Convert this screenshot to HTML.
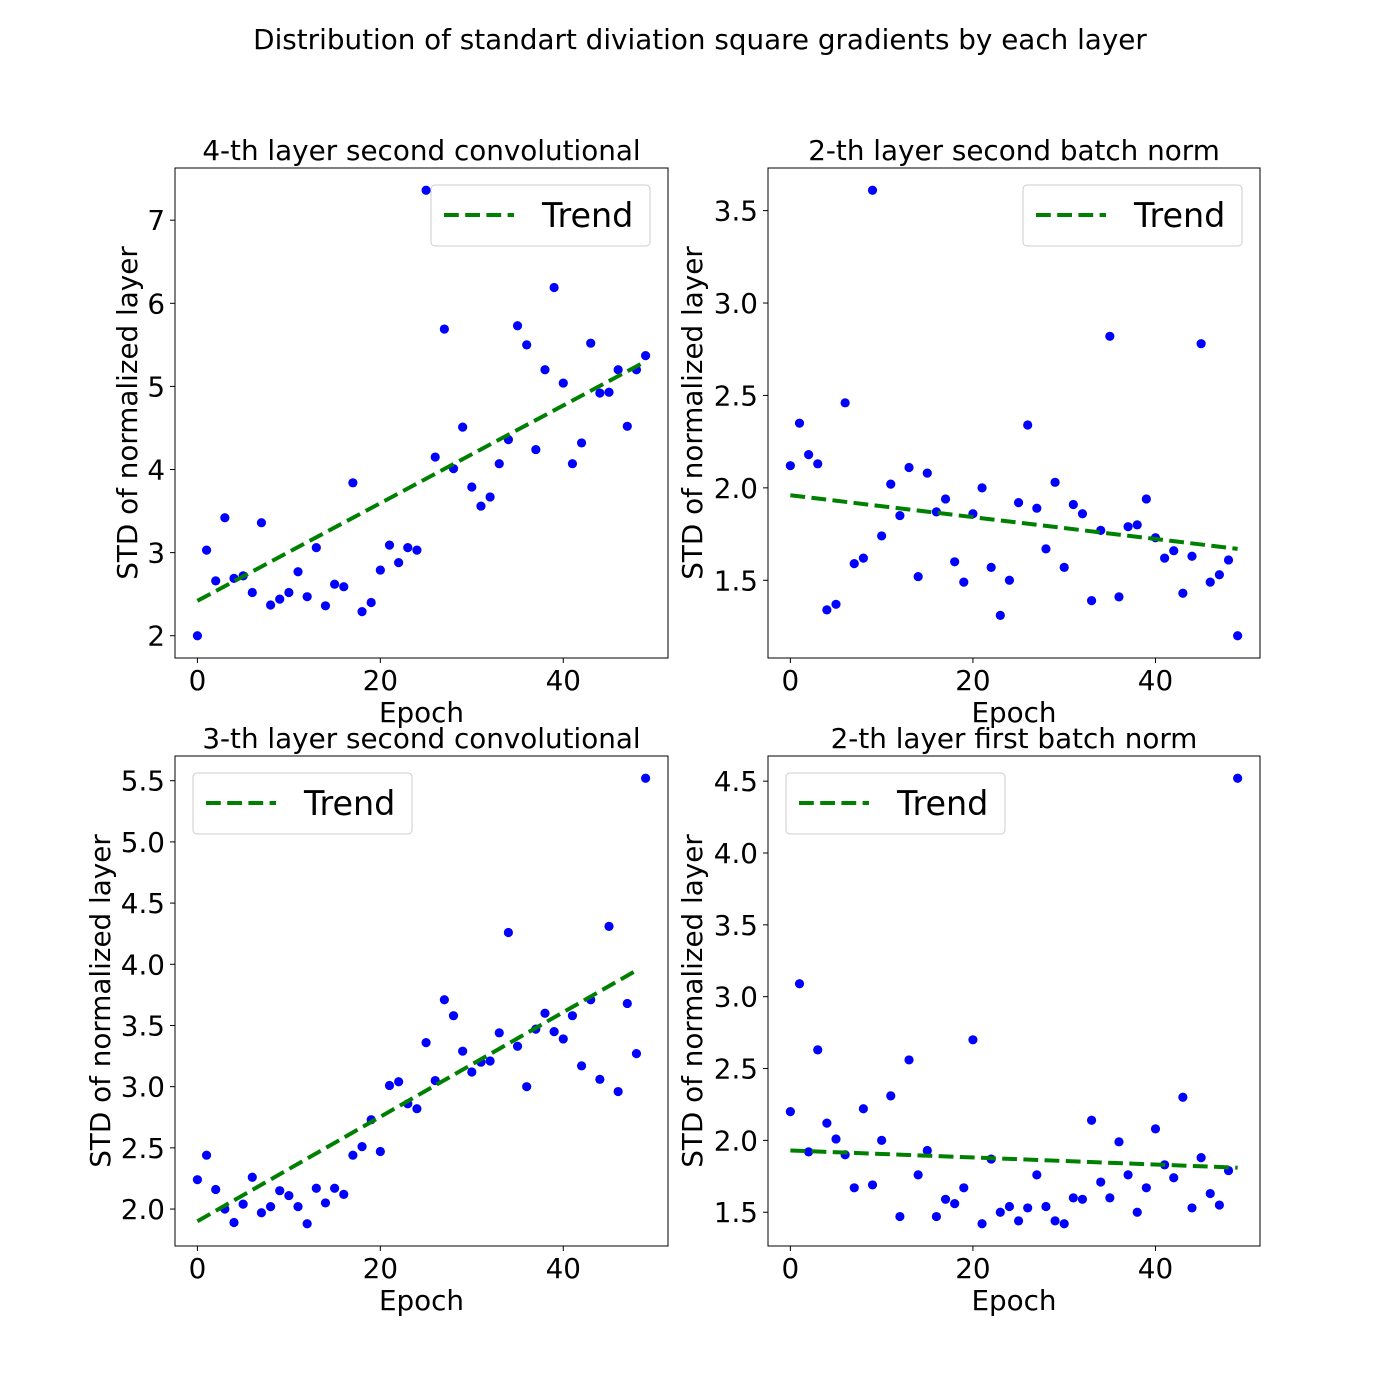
<!DOCTYPE html>
<html><head><meta charset="utf-8"><style>
body{margin:0;background:#fff;}
svg{display:block;font-family:"DejaVu Sans","Liberation Sans",sans-serif;}
</style></head><body>
<svg id="fig" width="1400" height="1400" viewBox="0 0 1400 1400" xmlns="http://www.w3.org/2000/svg">
<rect width="1400" height="1400" fill="#fff"/>
<text x="700" y="49" font-size="27.8" text-anchor="middle">Distribution of standart diviation square gradients by each layer</text>
</svg>
<script>
const epochs = Array.from({length:50},(_,i)=>i);
const titles = ["4-th layer second convolutional","2-th layer second batch norm","3-th layer second convolutional","2-th layer first batch norm"];
const series1 = [2.0,3.03,2.66,3.42,2.69,2.72,2.52,3.36,2.37,2.44,2.52,2.77,2.47,3.06,2.36,2.62,2.59,3.84,2.29,2.40,2.79,3.09,2.88,3.06,3.03,7.36,4.15,5.69,4.01,4.51,3.79,3.56,3.67,4.07,4.36,5.73,5.50,4.24,5.20,6.19,5.04,4.07,4.32,5.52,4.92,4.93,5.20,4.52,5.20,5.37];
const series2 = [2.12,2.35,2.18,2.13,1.34,1.37,2.46,1.59,1.62,3.61,1.74,2.02,1.85,2.11,1.52,2.08,1.87,1.94,1.60,1.49,1.86,2.00,1.57,1.31,1.50,1.92,2.34,1.89,1.67,2.03,1.57,1.91,1.86,1.39,1.77,2.82,1.41,1.79,1.80,1.94,1.73,1.62,1.66,1.43,1.63,2.78,1.49,1.53,1.61,1.20];
const series3 = [2.24,2.44,2.16,2.0,1.89,2.04,2.26,1.97,2.02,2.15,2.11,2.02,1.88,2.17,2.05,2.17,2.12,2.44,2.51,2.73,2.47,3.01,3.04,2.86,2.82,3.36,3.05,3.71,3.58,3.29,3.12,3.20,3.21,3.44,4.26,3.33,3.00,3.47,3.60,3.45,3.39,3.58,3.17,3.71,3.06,4.31,2.96,3.68,3.27,5.52];
const series4 = [2.20,3.09,1.92,2.63,2.12,2.01,1.90,1.67,2.22,1.69,2.00,2.31,1.47,2.56,1.76,1.93,1.47,1.59,1.56,1.67,2.70,1.42,1.87,1.50,1.54,1.44,1.53,1.76,1.54,1.44,1.42,1.60,1.59,2.14,1.71,1.60,1.99,1.76,1.50,1.67,2.08,1.83,1.74,2.30,1.53,1.88,1.63,1.55,1.79,4.52];
const trendStart = [2.42,1.96,1.90,1.93];
const trendEnd = [5.30,1.67,3.95,1.81];
const trendEndEpoch = [49,49,48,49];
const xTicks = [0,20,40];
const yTicks1 = [2,3,4,5,6,7];
const yTicks2 = [1.5,2.0,2.5,3.0,3.5];
const yTicks3 = [2.0,2.5,3.0,3.5,4.0,4.5,5.0,5.5];
const yTicks4 = [1.5,2.0,2.5,3.0,3.5,4.0,4.5];

const NS="http://www.w3.org/2000/svg";
const svg=document.getElementById('fig');
function mk(tag,attrs,parent){const e=document.createElementNS(NS,tag);for(const k in attrs)e.setAttribute(k,attrs[k]);(parent||svg).appendChild(e);return e;}
const FS=27.8;
const panels=[
 {x0:175,x1:668,y0:168,y1:658,data:series1,ticks:yTicks1,dec:0,leg:'right',ylx:127},
 {x0:768,x1:1260,y0:168,y1:658,data:series2,ticks:yTicks2,dec:1,leg:'right',ylx:692},
 {x0:175,x1:668,y0:756,y1:1246,data:series3,ticks:yTicks3,dec:1,leg:'left',ylx:100},
 {x0:768,x1:1260,y0:756,y1:1246,data:series4,ticks:yTicks4,dec:1,leg:'left',ylx:692}];
panels.forEach((p,i)=>{
 const g=mk('g',{});
 
 
 const xmin=Math.min(...epochs),xmax=Math.max(...epochs),xm=(xmax-xmin)*0.05;
 const ymin=Math.min(...p.data),ymax=Math.max(...p.data),ym=(ymax-ymin)*0.05;
 const sx=v=>p.x0+(v-(xmin-xm))/((xmax+xm)-(xmin-xm))*(p.x1-p.x0);
 const sy=v=>p.y1-(v-(ymin-ym))/((ymax+ym)-(ymin-ym))*(p.y1-p.y0);
 epochs.forEach((e,j)=>{
  const c=mk('circle',{cx:sx(e),cy:sy(p.data[j]),r:4.6,fill:'#0000ff'},g);
  
  
 });
 const tl=mk('line',{x1:sx(0),y1:sy(trendStart[i]),x2:sx(trendEndEpoch[i]),y2:sy(trendEnd[i]),stroke:'#008000','stroke-width':4,'stroke-dasharray':'14.8,6.4'},g);
 
 
 const fr=mk('rect',{x:p.x0,y:p.y0,width:p.x1-p.x0,height:p.y1-p.y0,fill:'none',stroke:'#000','stroke-width':1},g);
 
 
 xTicks.forEach(t=>{
  const X=sx(t);
  mk('line',{x1:X,x2:X,y1:p.y1,y2:p.y1+5,stroke:'#000'},g);
  const tx=mk('text',{x:X,y:p.y1+32,'font-size':FS,'text-anchor':'middle'},g);
  tx.textContent=t;
  
  
 });
 p.ticks.forEach(t=>{
  const Y=sy(t);
  mk('line',{x1:p.x0-5,x2:p.x0,y1:Y,y2:Y,stroke:'#000'},g);
  const tx=mk('text',{x:p.x0-10,y:Y+10,'font-size':FS,'text-anchor':'end'},g);
  tx.textContent=t.toFixed(p.dec);
  
  
 });
 const xl=mk('text',{x:(p.x0+p.x1)/2,y:p.y1+64,'font-size':FS,'text-anchor':'middle'},g);
 xl.textContent='Epoch';
 
 
 const yc=(p.y0+p.y1)/2;
 const yl=mk('text',{x:p.ylx+10,y:yc,'font-size':FS,'text-anchor':'middle',transform:`rotate(-90 ${p.ylx+10} ${yc})`},g);
 yl.textContent='STD of normalized layer';
 
 
 const ti=mk('text',{x:(p.x0+p.x1)/2,y:p.y0-8,'font-size':FS,'text-anchor':'middle'},g);
 ti.textContent=titles[i];
 
 
 const lx=p.leg==='right'?p.x1-237:p.x0+18, ly=p.y0+17;
 const lg=mk('g',{},g);
 
 
 mk('rect',{x:lx,y:ly,width:219,height:61,rx:4,fill:'#fff',stroke:'#ccc','stroke-width':1},lg);
 mk('line',{x1:lx+13,x2:lx+83,y1:ly+30,y2:ly+30,stroke:'#008000','stroke-width':4,'stroke-dasharray':'14.8,6.4'},lg);
 const lt=mk('text',{x:lx+111,y:ly+42,'font-size':33.4},lg);
 lt.textContent='Trend';
 
 
});
</script>
</body></html>
